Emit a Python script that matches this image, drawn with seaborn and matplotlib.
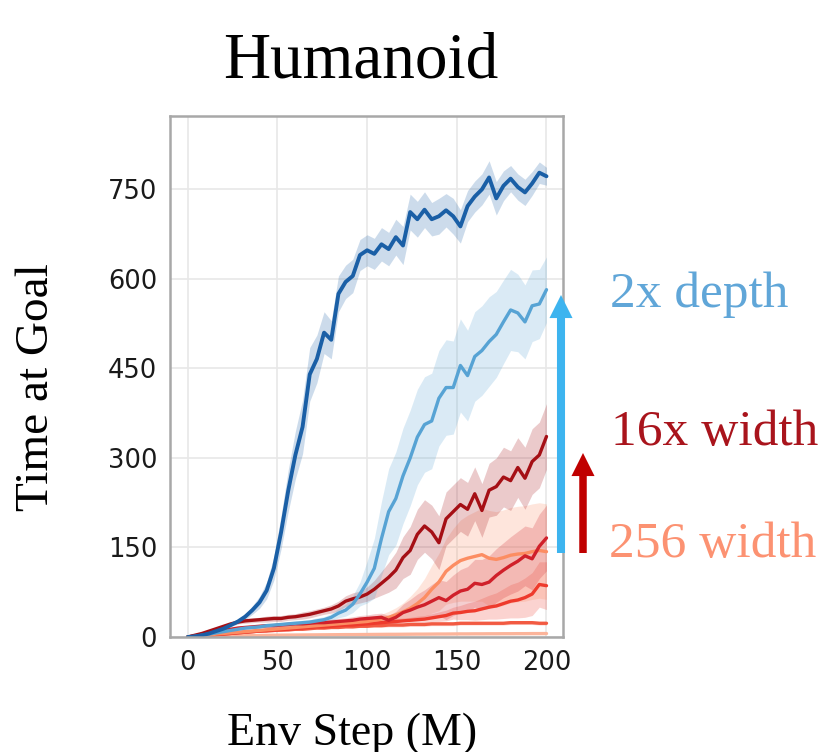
import numpy as np
import pandas as pd
import matplotlib
matplotlib.use('Agg')
import matplotlib.pyplot as plt
import seaborn as sns

# env steps (M), one sample every 4M
steps = list(range(0, 201, 4))

runs = ['pink', 'red_flat', 'red_light', 'salmon', 'red_mid', 'dark_red', 'light_blue', 'dark_blue']

pink = [0, 0.3, 0.6, 0.9, 1.2, 1.5, 1.8, 2, 2.2, 2.4, 2.6, 2.8, 3, 3.1, 3.2, 3.3, 3.4,
        3.5, 3.6, 3.7, 3.8, 3.9, 4, 4, 4.1, 4.2, 4.3, 4.4, 4.5, 4.5, 4.6, 4.7, 4.8, 4.8,
        4.9, 5, 5, 5.1, 5.2, 5.2, 5.3, 5.3, 5.4, 5.4, 5.5, 5.5, 5.6, 5.6, 5.7, 5.7, 5.8]
red_flat = [0, 1, 2, 3, 4, 5, 6, 7, 8, 9, 10, 10, 11, 12, 12, 13, 13, 14, 15, 15, 16, 16,
            17, 17, 18, 18, 19, 19, 20, 20, 20, 21, 21, 21, 22, 22, 22, 22, 23, 23, 23, 23,
            23, 23, 23, 24, 24, 24, 24, 23, 23]
red_light = [0, 1, 2, 3, 4, 5, 6, 7, 8, 9, 10, 11, 12, 12, 13, 14, 15, 16, 17, 17, 18, 19,
             20, 20, 21, 22, 23, 24, 25, 26, 27, 28, 29, 30, 32, 34, 36, 40, 41, 43, 44, 47,
             50, 52, 56, 60, 62, 66, 72, 88, 86]
salmon = [0, 1, 2, 3, 5, 6, 7, 8, 9, 10, 11, 12, 13, 14, 15, 16, 17, 18, 19, 20, 21, 22, 23,
          24, 25, 26, 28, 30, 33, 37, 42, 48, 56, 66, 80, 92, 110, 120, 128, 132, 135, 138,
          132, 130, 133, 137, 139, 140, 143, 145, 143]
red_mid = [0, 2, 4, 7, 9, 11, 13, 15, 16, 17, 18, 19, 19, 20, 21, 22, 22, 23, 24, 24, 25, 26,
           27, 28, 30, 31, 32, 33, 28, 33, 41, 45, 50, 54, 60, 66, 61, 70, 77, 80, 90, 88, 92,
           103, 112, 120, 127, 136, 131, 152, 166]
dark_red = [0, 3, 6, 10, 14, 18, 22, 25, 27, 28, 29, 30, 31, 31, 33, 34, 36, 38, 41, 44, 47,
            52, 60, 64, 67, 72, 80, 90, 100, 112, 133, 145, 172, 186, 176, 158, 198, 210, 222,
            214, 240, 212, 246, 252, 268, 262, 284, 266, 294, 305, 336]
light_blue = [0, 1, 3, 5, 7, 9, 11, 13, 15, 16, 17, 19, 20, 21, 22, 23, 24, 25, 27, 29, 33,
              40, 45, 55, 72, 92, 115, 165, 210, 232, 270, 300, 335, 356, 362, 400, 418, 418,
              455, 438, 470, 480, 495, 507, 528, 548, 543, 528, 555, 558, 582]
dark_blue = [0, 1, 3, 6, 10, 14, 20, 26, 34, 45, 58, 78, 115, 175, 245, 305, 352, 440, 466,
             510, 498, 575, 595, 605, 640, 648, 642, 658, 650, 670, 656, 712, 700, 716, 700,
             705, 715, 705, 688, 722, 738, 750, 770, 735, 756, 768, 754, 745, 760, 778, 772]

# half width of the shaded band
pink_sd = [0, 0, 0, 1, 1, 1, 1, 1, 1, 1, 1, 1, 1, 1, 1, 1, 1, 1, 1, 1, 1, 1, 1, 1, 1, 1, 1,
           1, 1, 1, 1, 1, 1, 1, 1, 1, 1, 1, 1, 1, 1, 1, 1, 1, 1, 1, 1, 1, 1, 1, 1]
red_flat_sd = [0, 0, 1, 1, 1, 1, 1, 1, 2, 2, 2, 2, 2, 2, 2, 2, 2, 2, 2, 2, 2, 2, 2, 2, 2, 2,
               3, 3, 3, 3, 3, 3, 3, 3, 3, 3, 3, 3, 3, 3, 3, 3, 3, 3, 3, 3, 3, 3, 3, 3, 3]
red_light_sd = [0, 1, 1, 1, 1, 2, 2, 2, 2, 2, 2, 2, 3, 3, 3, 3, 3, 3, 3, 3, 3, 4, 4, 4, 4, 4,
                4, 5, 5, 5, 5, 5, 6, 6, 7, 8, 9, 10, 12, 14, 16, 18, 20, 22, 25, 28, 30, 33,
                36, 38, 40]
salmon_sd = [0, 1, 1, 1, 2, 2, 2, 2, 2, 3, 3, 3, 3, 3, 3, 4, 4, 4, 4, 4, 5, 5, 5, 5, 6, 6, 7,
             8, 10, 12, 15, 20, 25, 32, 40, 48, 55, 62, 68, 72, 75, 78, 80, 80, 80, 80, 80, 80,
             80, 80, 80]
red_mid_sd = [0, 1, 1, 2, 2, 2, 3, 3, 3, 3, 3, 4, 4, 4, 4, 4, 4, 5, 5, 5, 5, 5, 5, 6, 6, 6, 7,
              7, 8, 10, 14, 18, 22, 25, 28, 30, 32, 34, 36, 38, 40, 42, 44, 45, 46, 48, 50, 50,
              52, 54, 55]
dark_red_sd = [0, 1, 1, 2, 2, 3, 3, 3, 4, 4, 4, 5, 5, 5, 5, 5, 6, 6, 6, 6, 7, 8, 9, 10, 10, 12,
               15, 20, 25, 30, 35, 40, 42, 44, 45, 45, 45, 45, 45, 45, 45, 45, 45, 48, 50, 50,
               50, 52, 55, 55, 55]
light_blue_sd = [0, 1, 1, 1, 2, 2, 2, 2, 3, 3, 3, 3, 3, 3, 4, 4, 4, 4, 5, 5, 6, 8, 10, 14, 20,
                 35, 50, 62, 72, 78, 80, 80, 80, 80, 80, 80, 80, 78, 78, 76, 75, 75, 75, 72, 70,
                 68, 65, 62, 60, 58, 55]
dark_blue_sd = [0, 1, 1, 2, 2, 3, 3, 4, 5, 7, 10, 14, 20, 28, 35, 40, 45, 45, 40, 35, 32, 30,
                28, 28, 26, 26, 26, 28, 28, 30, 32, 30, 30, 30, 28, 30, 28, 30, 28, 26, 26, 26,
                28, 28, 25, 22, 22, 22, 20, 18, 15]

values = [pink, red_flat, red_light, salmon, red_mid, dark_red, light_blue, dark_blue]
spreads = [pink_sd, red_flat_sd, red_light_sd, salmon_sd, red_mid_sd, dark_red_sd,
           light_blue_sd, dark_blue_sd]
colors = {'pink': '#fcb49a', 'red_flat': '#f25a42', 'red_light': '#ee3a2c',
          'salmon': '#fc8d62', 'red_mid': '#d0202a', 'dark_red': '#a50f15',
          'light_blue': '#57a3d4', 'dark_blue': '#1a5fa6'}

df = pd.concat([pd.DataFrame({'step': steps, 'value': v, 'sd': s, 'run': r})
                for r, v, s in zip(runs, values, spreads)], ignore_index=True)

sns.set_style('white')
plt.rcParams['text.color'] = 'black'
serif = ['Liberation Serif', 'DejaVu Serif']

fig = plt.figure(figsize=(8.25, 7.52), dpi=100)
ax = fig.add_axes([170 / 825, 1 - 637 / 752, 393 / 825, 521 / 752])

for r in runs:
    d = df[df['run'] == r]
    ax.fill_between(d['step'], d['value'] - d['sd'], d['value'] + d['sd'],
                    color=colors[r], alpha=0.22, linewidth=0)
sns.lineplot(data=df, x='step', y='value', hue='run', hue_order=runs, palette=colors,
             linewidth=2.4, legend=False, errorbar=None, ax=ax)
ax.lines[-1].set_linewidth(2.8)

ax.set_xlim(-9.9, 209.2)
ax.set_ylim(0, 873)
ax.set_xticks([0, 50, 100, 150, 200])
ax.set_yticks([0, 150, 300, 450, 600, 750])
ax.grid(True, color='#e8e8e8', linewidth=1.2)
ax.set_axisbelow(True)
ax.tick_params(axis='both', length=4.5, width=1.2, color='#a0a0a0', labelsize=18.5,
               labelcolor='#1a1a1a', pad=4.8)
for s in ax.spines.values():
    s.set_color('#a8a8a8')
    s.set_linewidth(1.8)

ax.set_xlabel('Env Step (M)', fontsize=33, family=serif, color='black')
ax.set_ylabel('Time at Goal', fontsize=34, family=serif, color='black')
ax.xaxis.set_label_coords(0.463, -0.144)
ax.yaxis.set_label_coords(-0.285, 0.48)
ax.text(0.486, (637 - 78) / 521, 'Humanoid', transform=ax.transAxes, ha='center',
        va='baseline', fontsize=47, family=serif, color='black')

# arrows, in figure pixels
ax.annotate('', xy=(561, 752 - 295), xytext=(561, 752 - 553), xycoords='figure pixels',
            textcoords='figure pixels',
            arrowprops=dict(width=5.8, headwidth=16.6, headlength=16.6, shrink=0,
                            color='#3db4ef', linewidth=0))
ax.annotate('', xy=(583, 752 - 453), xytext=(583, 752 - 553), xycoords='figure pixels',
            textcoords='figure pixels',
            arrowprops=dict(width=5.4, headwidth=16.6, headlength=16.6, shrink=0,
                            color='#c00000', linewidth=0))

fig.text(610 / 825, 1 - 307 / 752, '2x depth', color='#60a6d8', fontsize=37,
         family=serif, va='baseline')
fig.text(611 / 825, 1 - 445 / 752, '16x width', color='#a9141c', fontsize=37,
         family=serif, va='baseline')
fig.text(609 / 825, 1 - 557 / 752, '256 width', color='#fc9272', fontsize=37,
         family=serif, va='baseline')

fig.savefig('out.png', dpi=100)
